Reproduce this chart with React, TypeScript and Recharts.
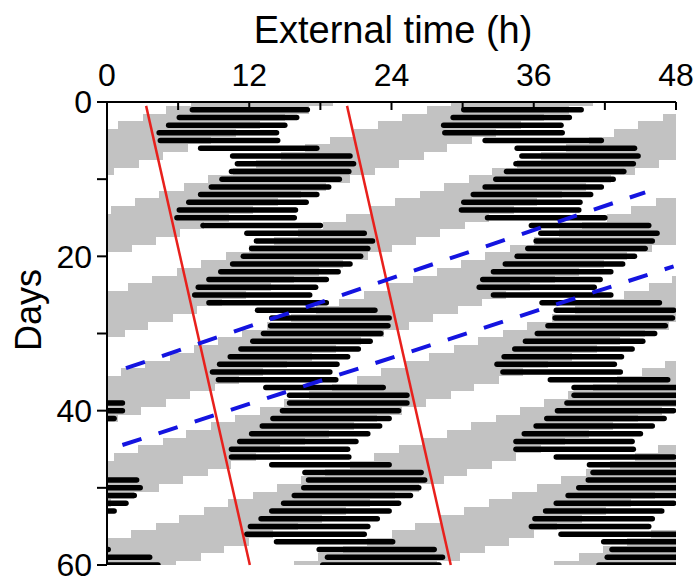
import React from "react";
import { ComposedChart, XAxis, YAxis, ReferenceArea, ReferenceLine } from "recharts";

// activity bouts per day: onset / offset in clock hours (offsets past 24 run into the next day)
const days = [
  1, 2, 3, 4, 5, 6, 7, 8, 9, 10, 11, 12, 13, 14, 15, 16, 17, 18, 19, 20,
  21, 22, 23, 24, 25, 26, 27, 28, 29, 30, 31, 32, 33, 34, 35, 36, 37, 38, 39, 40,
  41, 42, 43, 44, 45, 46, 47, 48, 49, 50, 51, 52, 53, 54, 55, 56, 57, 58, 59, 60, 61,
];
const activityOn = [
  7.2, 6.1, 5.2, 4.4, 4.5, 7.9, 10.6, 11.0, 10.5, 9.7, 8.8, 7.9, 6.9, 6.1, 5.9, 8.1, 11.8, 12.6, 12.2, 11.5,
  10.6, 9.6, 8.6, 7.7, 7.4, 8.6, 12.7, 13.9, 13.8, 13.2, 12.3, 11.3, 10.4, 9.5, 8.9, 9.4, 13.4, 15.4, 15.4, 14.8,
  14.0, 13.1, 12.2, 11.2, 10.5, 10.5, 13.9, 16.7, 17.0, 16.6, 15.8, 14.9, 13.9, 13.0, 12.1, 11.8, 14.3, 17.9, 18.6, 18.2, 17.5,
];
const activityOff = [
  16.9, 16.0, 15.0, 14.3, 14.4, 17.7, 20.5, 20.8, 20.4, 19.6, 18.7, 17.7, 16.8, 15.9, 15.8, 18.0, 21.7, 22.4, 22.0, 21.4,
  20.5, 19.5, 18.5, 17.6, 17.1, 18.5, 22.6, 23.8, 23.7, 23.1, 22.2, 21.2, 20.3, 19.4, 18.8, 19.3, 23.3, 25.3, 25.3, 24.6,
  23.8, 23.0, 22.0, 21.0, 20.3, 20.4, 23.8, 26.5, 26.8, 26.3, 25.6, 24.6, 23.8, 22.8, 22.0, 21.7, 24.1, 27.6, 28.3, 28.0, 27.3,
];

// light pulses of the short T-cycle: start times in hours after day 0, 00:00
const lightOn = [
  7.1, 29.0, 51.0, 72.9, 94.9, 116.8, 138.8, 160.7, 182.7, 204.6, 226.6, 248.5, 270.5, 292.4, 314.4, 336.3, 358.3,
  380.2, 402.2, 424.1, 446.1, 468.0, 490.0, 511.9, 533.9, 555.8, 577.8, 599.7, 621.7, 643.6, 665.6, 687.5, 709.5,
  731.4, 753.4, 775.3, 797.3, 819.2, 841.2, 863.1, 885.1, 907.0, 929.0, 950.9, 972.9, 994.8, 1016.8, 1038.7,
  1060.7, 1082.6, 1104.6, 1126.5, 1148.5, 1170.4, 1192.4, 1214.3, 1236.3, 1258.2, 1280.2, 1302.1, 1324.1,
  1346.0, 1368.0, 1389.9, 1411.9, 1433.8, 1455.8, 1477.7,
];
const LIGHT_HOURS = 12;

const xTicks = [0, 6, 12, 18, 24, 30, 36, 42, 48];
const yTicks = [0, 10, 20, 30, 40, 50, 60];

// fitted phase lines, endpoints as [hour, day]
const redFits = [
  [[3.3, 0.5], [12.05, 60]],
  [[20.25, 0.5], [29.0, 60]],
];
const blueFits = [
  [[1.6, 34.5], [45.4, 11.7]],
  [[1.3, 44.45], [47.8, 21.3]],
];

const ROWS = 60;
const SPAN = 48;
const FONT = "'Liberation Sans', Arial, sans-serif";

// gray light blocks, one strip per plotted row
const lightRects: { x1: number; x2: number; y1: number; y2: number }[] = [];
for (let row = 0; row <= ROWS; row++) {
  const t0 = row * 24;
  lightOn.forEach((s) => {
    const x1 = Math.max(0, s - t0);
    const x2 = Math.min(SPAN, s + LIGHT_HOURS - t0);
    if (x2 > x1) {
      lightRects.push({ x1, x2, y1: Math.max(0, row - 0.5), y2: Math.min(ROWS, row + 0.5) });
    }
  });
}

// double plot: row n shows day n on the left and day n+1 on the right
const bouts: { row: number; x1: number; x2: number }[] = [];
days.forEach((day, i) => {
  for (let row = day - 1; row <= day + 1; row++) {
    if (row < 1 || row > ROWS) continue;
    const shift = (day - row) * 24;
    const x1 = activityOn[i] + shift;
    const x2 = activityOff[i] + shift;
    if (x2 <= 0 || x1 >= SPAN) continue;
    bouts.push({ row, x1, x2 });
  }
});

// top axis: ticks point into the plot, labels every 12 h
const TopTick = (props: any) => {
  const { x, y, payload } = props;
  const v = payload.value as number;
  return (
    <g>
      <line x1={x} y1={y} x2={x} y2={y + 8} stroke="#000" strokeWidth={2} />
      {v % 12 === 0 && (
        <text x={x} y={y - 16} textAnchor="middle" fontSize={32} fontFamily={FONT} fill="#000">
          {v}
        </text>
      )}
    </g>
  );
};

const fmtY = (v: number) => (v % 20 === 0 ? String(v) : "");

export default function App() {
  return (
    <div style={{ position: "absolute", left: 0, top: 0, width: 695, height: 578, background: "#fff" }}>
      <ComposedChart
        width={695}
        height={578}
        data={bouts}
        margin={{ top: 0, right: 19, bottom: 13, left: 0 }}
      >
        <XAxis
          dataKey="x1"
          type="number"
          orientation="top"
          domain={[0, SPAN]}
          allowDataOverflow
          ticks={xTicks}
          interval={0}
          height={102}
          tickSize={0}
          tickMargin={0}
          tickLine={false}
          axisLine={{ stroke: "#000", strokeWidth: 2 }}
          tick={<TopTick />}
        />
        <YAxis
          dataKey="row"
          type="number"
          domain={[0, ROWS]}
          allowDataOverflow
          reversed
          ticks={yTicks}
          interval={0}
          tickFormatter={fmtY}
          width={107}
          tickSize={10}
          tickMargin={5}
          axisLine={{ stroke: "#000", strokeWidth: 2 }}
          tickLine={{ stroke: "#000", strokeWidth: 2 }}
          tick={{ fontSize: 32, fill: "#000", fontFamily: FONT }}
        />
        {lightRects.map((r, i) => (
          <ReferenceArea
            key={`l${i}`}
            x1={r.x1}
            x2={r.x2}
            y1={r.y1}
            y2={r.y2}
            fill="#c2c2c2"
            fillOpacity={1}
            stroke="none"
            shapeRendering="crispEdges"
            ifOverflow="visible"
          />
        ))}
        {bouts.map((b, i) => (
          <ReferenceLine
            key={`b${i}`}
            segment={[{ x: b.x1, y: b.row }, { x: b.x2, y: b.row }]}
            stroke="#000"
            strokeWidth={5.5}
            strokeLinecap="round"
            ifOverflow="hidden"
          />
        ))}
        {redFits.map((f, i) => (
          <ReferenceLine
            key={`r${i}`}
            segment={[{ x: f[0][0], y: f[0][1] }, { x: f[1][0], y: f[1][1] }]}
            stroke="#e8201c"
            strokeWidth={2.5}
            ifOverflow="visible"
          />
        ))}
        {blueFits.map((f, i) => (
          <ReferenceLine
            key={`d${i}`}
            segment={[{ x: f[0][0], y: f[0][1] }, { x: f[1][0], y: f[1][1] }]}
            stroke="#1414e0"
            strokeWidth={4}
            strokeDasharray="20 18"
            ifOverflow="visible"
          />
        ))}
      </ComposedChart>
      <svg
        width={695}
        height={578}
        style={{ position: "absolute", left: 0, top: 0, pointerEvents: "none" }}
        fontFamily={FONT}
      >
        <text x={393} y={43} textAnchor="middle" fontSize={38} fill="#000">
          External time (h)
        </text>
        <text transform="translate(41,310) rotate(-90)" textAnchor="middle" fontSize={36} fill="#000">
          Days
        </text>
      </svg>
    </div>
  );
}
